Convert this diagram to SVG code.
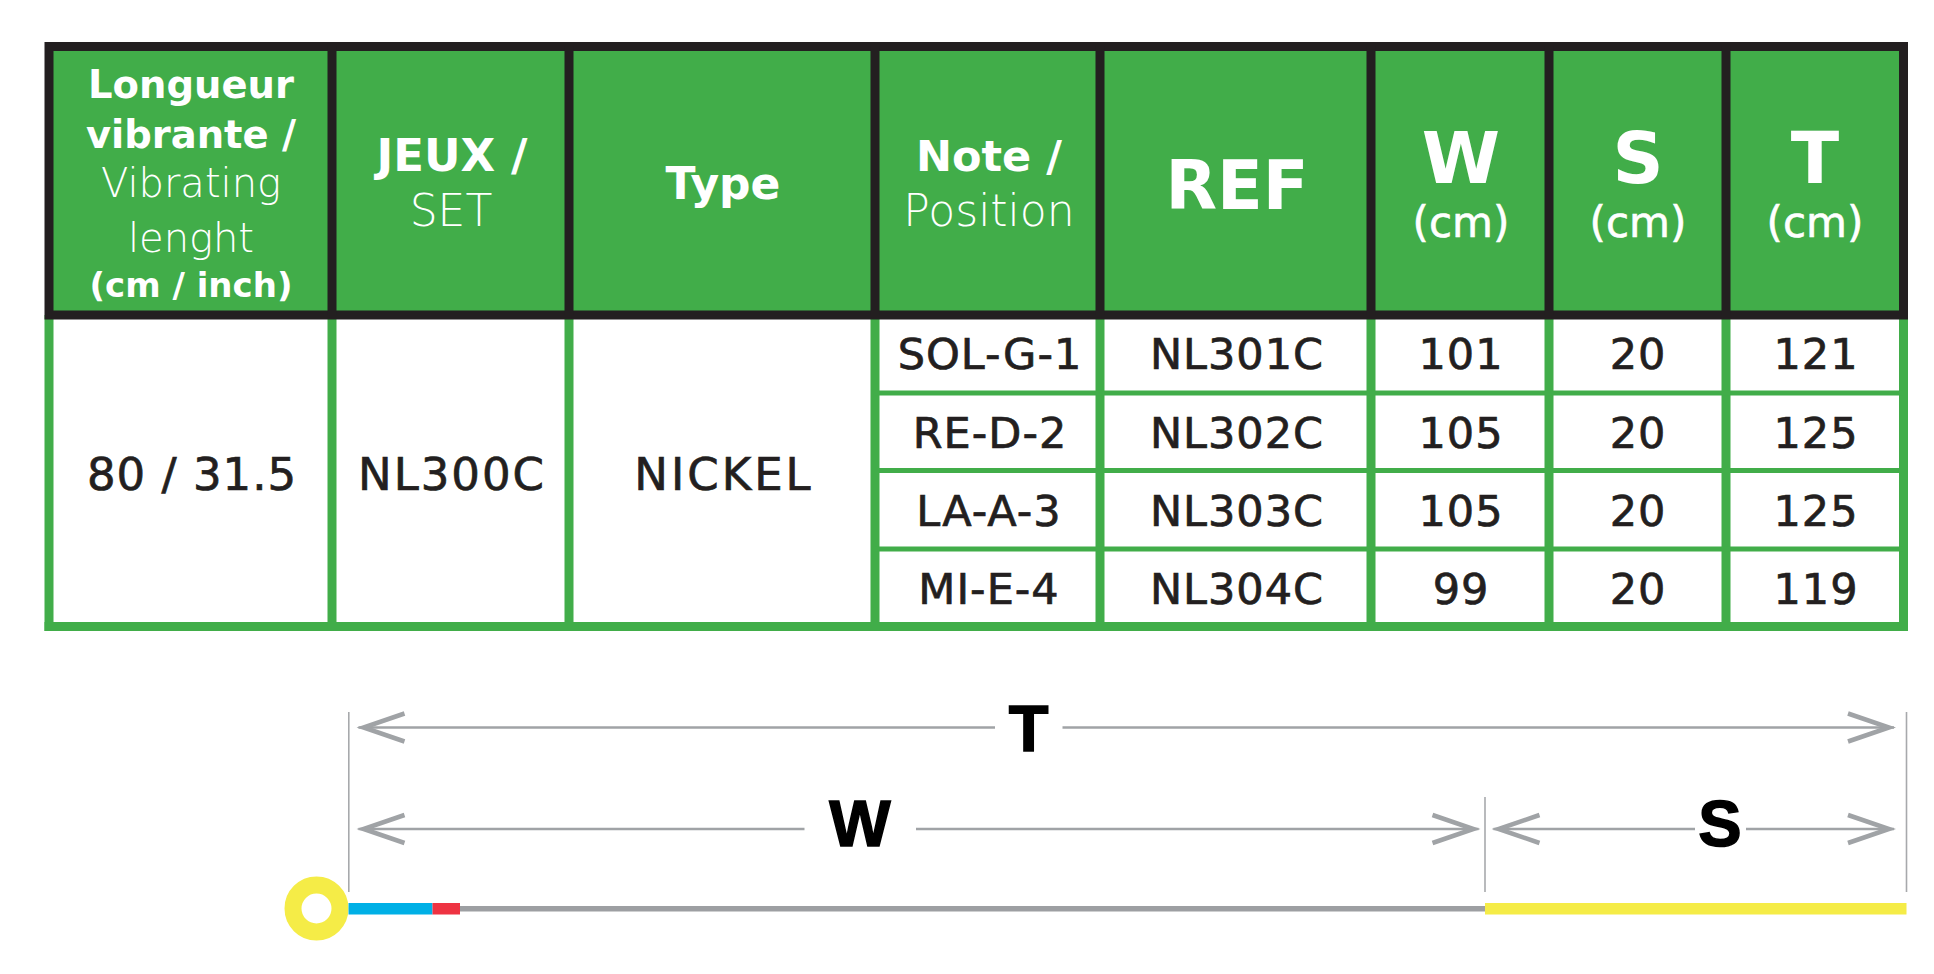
<svg xmlns="http://www.w3.org/2000/svg" width="1934" height="974" viewBox="0 0 1934 974">
<style>
.hb{font-family:"DejaVu Sans","Liberation Sans",sans-serif;font-weight:bold;fill:#fff;text-anchor:middle}
.hr{font-family:"DejaVu Sans","Liberation Sans",sans-serif;font-weight:300;fill:#fff;text-anchor:middle}
.hm{font-family:"DejaVu Sans","Liberation Sans",sans-serif;font-weight:normal;fill:#fff;stroke:#fff;stroke-width:0.6px;text-anchor:middle}
.bd{font-family:"DejaVu Sans","Liberation Sans",sans-serif;font-size:43px;fill:#231f20;stroke:#231f20;stroke-width:0.7px;text-anchor:middle;letter-spacing:1px}
.dim{font-family:"Liberation Sans",Arial,sans-serif;font-weight:bold;font-size:65px;fill:#000;stroke:#000;stroke-width:1.5px;text-anchor:middle}
.hl{stroke:#231f20;stroke-width:9;fill:none}
.gl{stroke:#41ad49;stroke-width:9;fill:none}
.gr{stroke:#41ad49;stroke-width:5;fill:none}
.dl{stroke:#a0a3a6;stroke-width:2.7;fill:none}
.tk{stroke:#a7a9ac;stroke-width:1.6;fill:none}
</style>
<defs>
<marker id="chev" markerUnits="userSpaceOnUse" markerWidth="60" markerHeight="40" viewBox="-55 -20 60 40" refX="0" refY="0" orient="auto-start-reverse" overflow="visible">
<path d="M-46,-14 L-5,0 L-46,14" fill="none" stroke="#a0a3a6" stroke-width="4.5" stroke-linejoin="miter"/>
</marker>
</defs>
<rect width="1934" height="974" fill="#fff"/>

<g id="table-frame">
<rect x="49" y="46" width="1854" height="269" fill="#41ad49"/>
<rect x="49" y="319" width="1854" height="308" fill="#fff"/>
<line class="gl" x1="49" y1="315" x2="49" y2="631"/>
<line class="gl" x1="332" y1="315" x2="332" y2="631"/>
<line class="gl" x1="569" y1="315" x2="569" y2="631"/>
<line class="gl" x1="875" y1="315" x2="875" y2="631"/>
<line class="gl" x1="1100" y1="315" x2="1100" y2="631"/>
<line class="gl" x1="1371" y1="315" x2="1371" y2="631"/>
<line class="gl" x1="1549" y1="315" x2="1549" y2="631"/>
<line class="gl" x1="1726" y1="315" x2="1726" y2="631"/>
<line class="gl" x1="1903.5" y1="315" x2="1903.5" y2="631"/>
<line class="gr" x1="875" y1="393" x2="1903" y2="393"/>
<line class="gr" x1="875" y1="470.5" x2="1903" y2="470.5"/>
<line class="gr" x1="875" y1="549" x2="1903" y2="549"/>
<line class="gl" x1="44.5" y1="626.5" x2="1908" y2="626.5"/>
<rect class="hl" x="49" y="46.5" width="1854.5" height="268.5"/>
<line class="hl" x1="332" y1="46" x2="332" y2="315"/>
<line class="hl" x1="569" y1="46" x2="569" y2="315"/>
<line class="hl" x1="875" y1="46" x2="875" y2="315"/>
<line class="hl" x1="1100" y1="46" x2="1100" y2="315"/>
<line class="hl" x1="1371" y1="46" x2="1371" y2="315"/>
<line class="hl" x1="1549" y1="46" x2="1549" y2="315"/>
<line class="hl" x1="1726" y1="46" x2="1726" y2="315"/>
</g>

<g id="h-length">
<text class="hb" x="191" y="98" font-size="38.5">Longueur</text>
<text class="hb" x="191" y="148" font-size="38.5">vibrante /</text>
<text class="hr" x="191" y="197" font-size="40">Vibrating</text>
<text class="hr" x="191" y="252" font-size="40">lenght</text>
<text class="hb" x="191" y="297" font-size="34">(cm / inch)</text>
</g>
<g id="h-set">
<text class="hb" x="452" y="171" font-size="45">JEUX /</text>
<text class="hr" x="451" y="226" font-size="44">SET</text>
</g>
<g id="h-type">
<text class="hb" x="723" y="199" font-size="44">Type</text>
</g>
<g id="h-note">
<text class="hb" x="989" y="171" font-size="43">Note /</text>
<text class="hr" x="989" y="226" font-size="44">Position</text>
</g>
<g id="h-ref">
<text class="hb" x="1237" y="209" font-size="67">REF</text>
</g>
<g id="h-w">
<text class="hb" x="1461" y="183" font-size="71">W</text>
<text class="hm" x="1461" y="237" font-size="42">(cm)</text>
</g>
<g id="h-s">
<text class="hb" x="1638" y="183" font-size="71">S</text>
<text class="hm" x="1638" y="237" font-size="42">(cm)</text>
</g>
<g id="h-t">
<text class="hb" x="1815" y="183" font-size="71">T</text>
<text class="hm" x="1815" y="237" font-size="42">(cm)</text>
</g>

<g id="c-length"><text class="bd" x="192" y="490" style="font-size:45px">80 / 31.5</text></g>
<g id="c-set"><text class="bd" x="452" y="490" style="font-size:45px;letter-spacing:2px">NL300C</text></g>
<g id="c-type"><text class="bd" x="724" y="490" style="font-size:45px;letter-spacing:3px">NICKEL</text></g>

<g id="row1">
<text class="bd" x="990" y="369">SOL-G-1</text>
<text class="bd" x="1237" y="369">NL301C</text>
<text class="bd" x="1461" y="369">101</text>
<text class="bd" x="1638" y="369">20</text>
<text class="bd" x="1816" y="369">121</text>
</g>
<g id="row2">
<text class="bd" x="990" y="447.5">RE-D-2</text>
<text class="bd" x="1237" y="447.5">NL302C</text>
<text class="bd" x="1461" y="447.5">105</text>
<text class="bd" x="1638" y="447.5">20</text>
<text class="bd" x="1816" y="447.5">125</text>
</g>
<g id="row3">
<text class="bd" x="989" y="525.5">LA-A-3</text>
<text class="bd" x="1237" y="525.5">NL303C</text>
<text class="bd" x="1461" y="525.5">105</text>
<text class="bd" x="1638" y="525.5">20</text>
<text class="bd" x="1816" y="525.5">125</text>
</g>
<g id="row4">
<text class="bd" x="989" y="604">MI-E-4</text>
<text class="bd" x="1237" y="604">NL304C</text>
<text class="bd" x="1461" y="604">99</text>
<text class="bd" x="1638" y="604">20</text>
<text class="bd" x="1816" y="604">119</text>
</g>

<g id="string">
<circle cx="316.5" cy="908.5" r="23.5" fill="none" stroke="#f5ec47" stroke-width="17"/>
<rect x="348.5" y="903" width="84" height="11.5" fill="#00b0e6"/>
<rect x="432.5" y="903" width="27.5" height="11.5" fill="#ee3342"/>
<rect x="460" y="906" width="1025" height="5.5" fill="#9d9fa2"/>
<rect x="1485" y="903" width="421.5" height="11.5" fill="#f5ec47"/>
</g>

<g id="connectors">
<line class="tk" x1="348.8" y1="712" x2="348.8" y2="892"/>
<line class="tk" x1="1485" y1="797" x2="1485" y2="892"/>
<line class="tk" x1="1906.5" y1="712" x2="1906.5" y2="892"/>
<line class="dl" x1="358.5" y1="727.5" x2="995" y2="727.5" marker-start="url(#chev)"/>
<line class="dl" x1="1062.5" y1="727.5" x2="1894" y2="727.5" marker-end="url(#chev)"/>
<line class="dl" x1="358.5" y1="829" x2="804.5" y2="829" marker-start="url(#chev)"/>
<line class="dl" x1="916" y1="829" x2="1478.5" y2="829" marker-end="url(#chev)"/>
<line class="dl" x1="1493.5" y1="829" x2="1695" y2="829" marker-start="url(#chev)"/>
<line class="dl" x1="1746" y1="829" x2="1894" y2="829" marker-end="url(#chev)"/>
</g>
<g id="label-T"><text class="dim" x="1028.5" y="750.5">T</text></g>
<g id="label-W"><text class="dim" x="860" y="845.5">W</text></g>
<g id="label-S"><text class="dim" x="1720" y="845.5">S</text></g>
</svg>
